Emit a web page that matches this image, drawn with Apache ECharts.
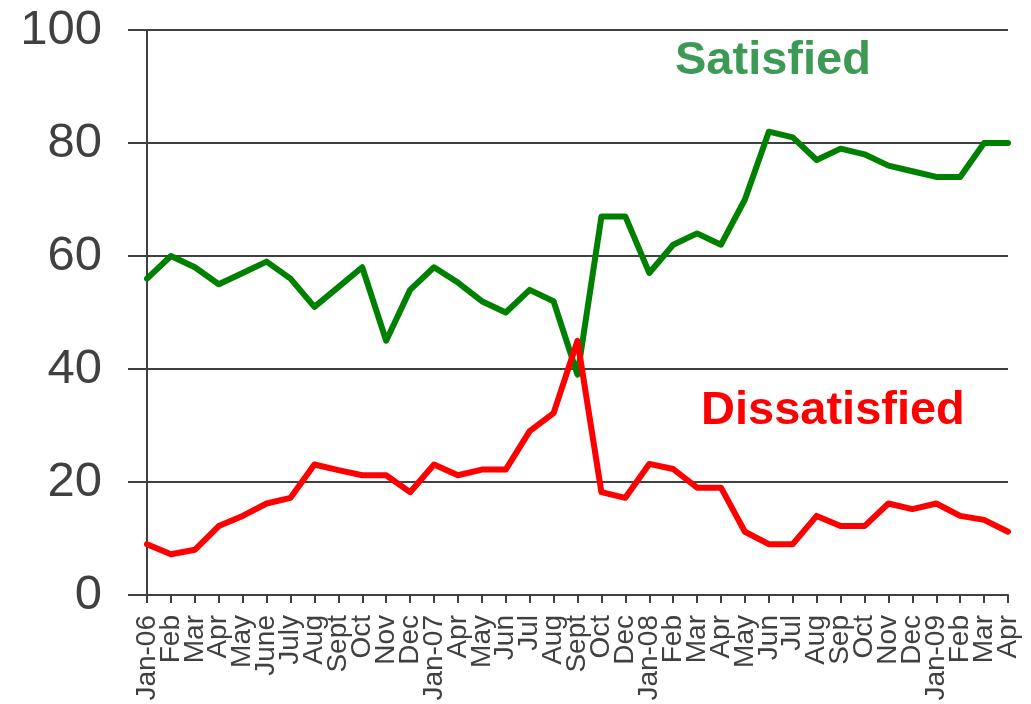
<html>

<head>
    <meta charset="utf-8">
    <script src="https://cdn.jsdelivr.net/npm/echarts@6/dist/echarts.min.js"></script>
    <style>
        html, body {
            margin: 0;
            padding: 0;
            background: #fff;
        }
        #main {
            width: 1031px;
            height: 704px;
        }
    </style>
</head>

<body>
    <div id="main"></div>
    <script>
        var months = ['Jan-06', 'Feb', 'Mar', 'Apr', 'May', 'June', 'July', 'Aug', 'Sept', 'Oct', 'Nov', 'Dec',
            'Jan-07', 'Apr', 'May', 'Jun', 'Jul', 'Aug', 'Sept', 'Oct', 'Dec',
            'Jan-08', 'Feb', 'Mar', 'Apr', 'May', 'Jun', 'Jul', 'Aug', 'Sep', 'Oct', 'Nov', 'Dec',
            'Jan-09', 'Feb', 'Mar', 'Apr'];
        var satisfied = [56, 60, 58, 55, 57, 59, 56, 51, 54.5, 58, 45, 54,
            58, 55.3, 52, 50, 54, 52, 39, 67, 67,
            57, 62, 64, 62, 70, 82, 81, 77, 79, 78, 76, 75,
            74, 74, 80, 80];
        var dissatisfied = [9, 7.2, 8, 12.2, 14, 16.2, 17.2, 23.1, 22.1, 21.2, 21.2, 18.2,
            23.1, 21.2, 22.2, 22.2, 29, 32.2, 45, 18.2, 17.2,
            23.2, 22.3, 19, 19, 11.2, 9, 9, 14, 12.2, 12.2, 16.2, 15.2,
            16.2, 14, 13.3, 11.2];
        var yTicks = [0, 20, 40, 60, 80, 100];

        var font = 'Liberation Sans, Arial, sans-serif';
        var axisColor = '#404040';

        var myChart = echarts.init(document.getElementById('main'));
        var option = {
            animation: false,
            backgroundColor: '#fff',
            grid: {
                left: 147,
                right: 23,
                top: 30,
                bottom: 109
            },
            xAxis: {
                type: 'category',
                boundaryGap: false,
                data: months,
                axisLine: {
                    lineStyle: { color: axisColor, width: 2 }
                },
                axisTick: {
                    alignWithLabel: true,
                    interval: 0,
                    length: 8,
                    lineStyle: { color: axisColor, width: 2 }
                },
                axisLabel: {
                    interval: 0,
                    rotate: 90,
                    margin: 20,
                    fontFamily: font,
                    fontSize: 28,
                    color: axisColor
                }
            },
            yAxis: {
                type: 'value',
                min: yTicks[0],
                max: yTicks[yTicks.length - 1],
                interval: 20,
                axisLine: {
                    show: true,
                    lineStyle: { color: axisColor, width: 2 }
                },
                axisTick: {
                    show: true,
                    length: 19,
                    lineStyle: { color: axisColor, width: 2 }
                },
                axisLabel: {
                    margin: 45,
                    fontFamily: font,
                    fontSize: 49,
                    color: axisColor
                },
                splitLine: {
                    lineStyle: { color: axisColor, width: 2 }
                }
            },
            series: [
                {
                    name: 'Satisfied',
                    type: 'line',
                    data: satisfied,
                    symbol: 'none',
                    lineStyle: { color: '#008000', width: 6, cap: 'round', join: 'round' },
                    z: 3
                },
                {
                    name: 'Dissatisfied',
                    type: 'line',
                    data: dissatisfied,
                    symbol: 'none',
                    lineStyle: { color: '#ff0000', width: 6, cap: 'round', join: 'round' },
                    z: 4
                }
            ],
            graphic: [
                {
                    type: 'text',
                    left: 675,
                    top: 38,
                    style: {
                        text: 'Satisfied',
                        font: 'bold 47px ' + font,
                        fill: '#3d9a55'
                    }
                },
                {
                    type: 'text',
                    left: 701,
                    top: 388,
                    style: {
                        text: 'Dissatisfied',
                        font: 'bold 47px ' + font,
                        fill: '#ff0000'
                    }
                }
            ]
        };

        myChart.setOption(option);
        window.onresize = myChart.resize;
    </script>
</body>

</html>
